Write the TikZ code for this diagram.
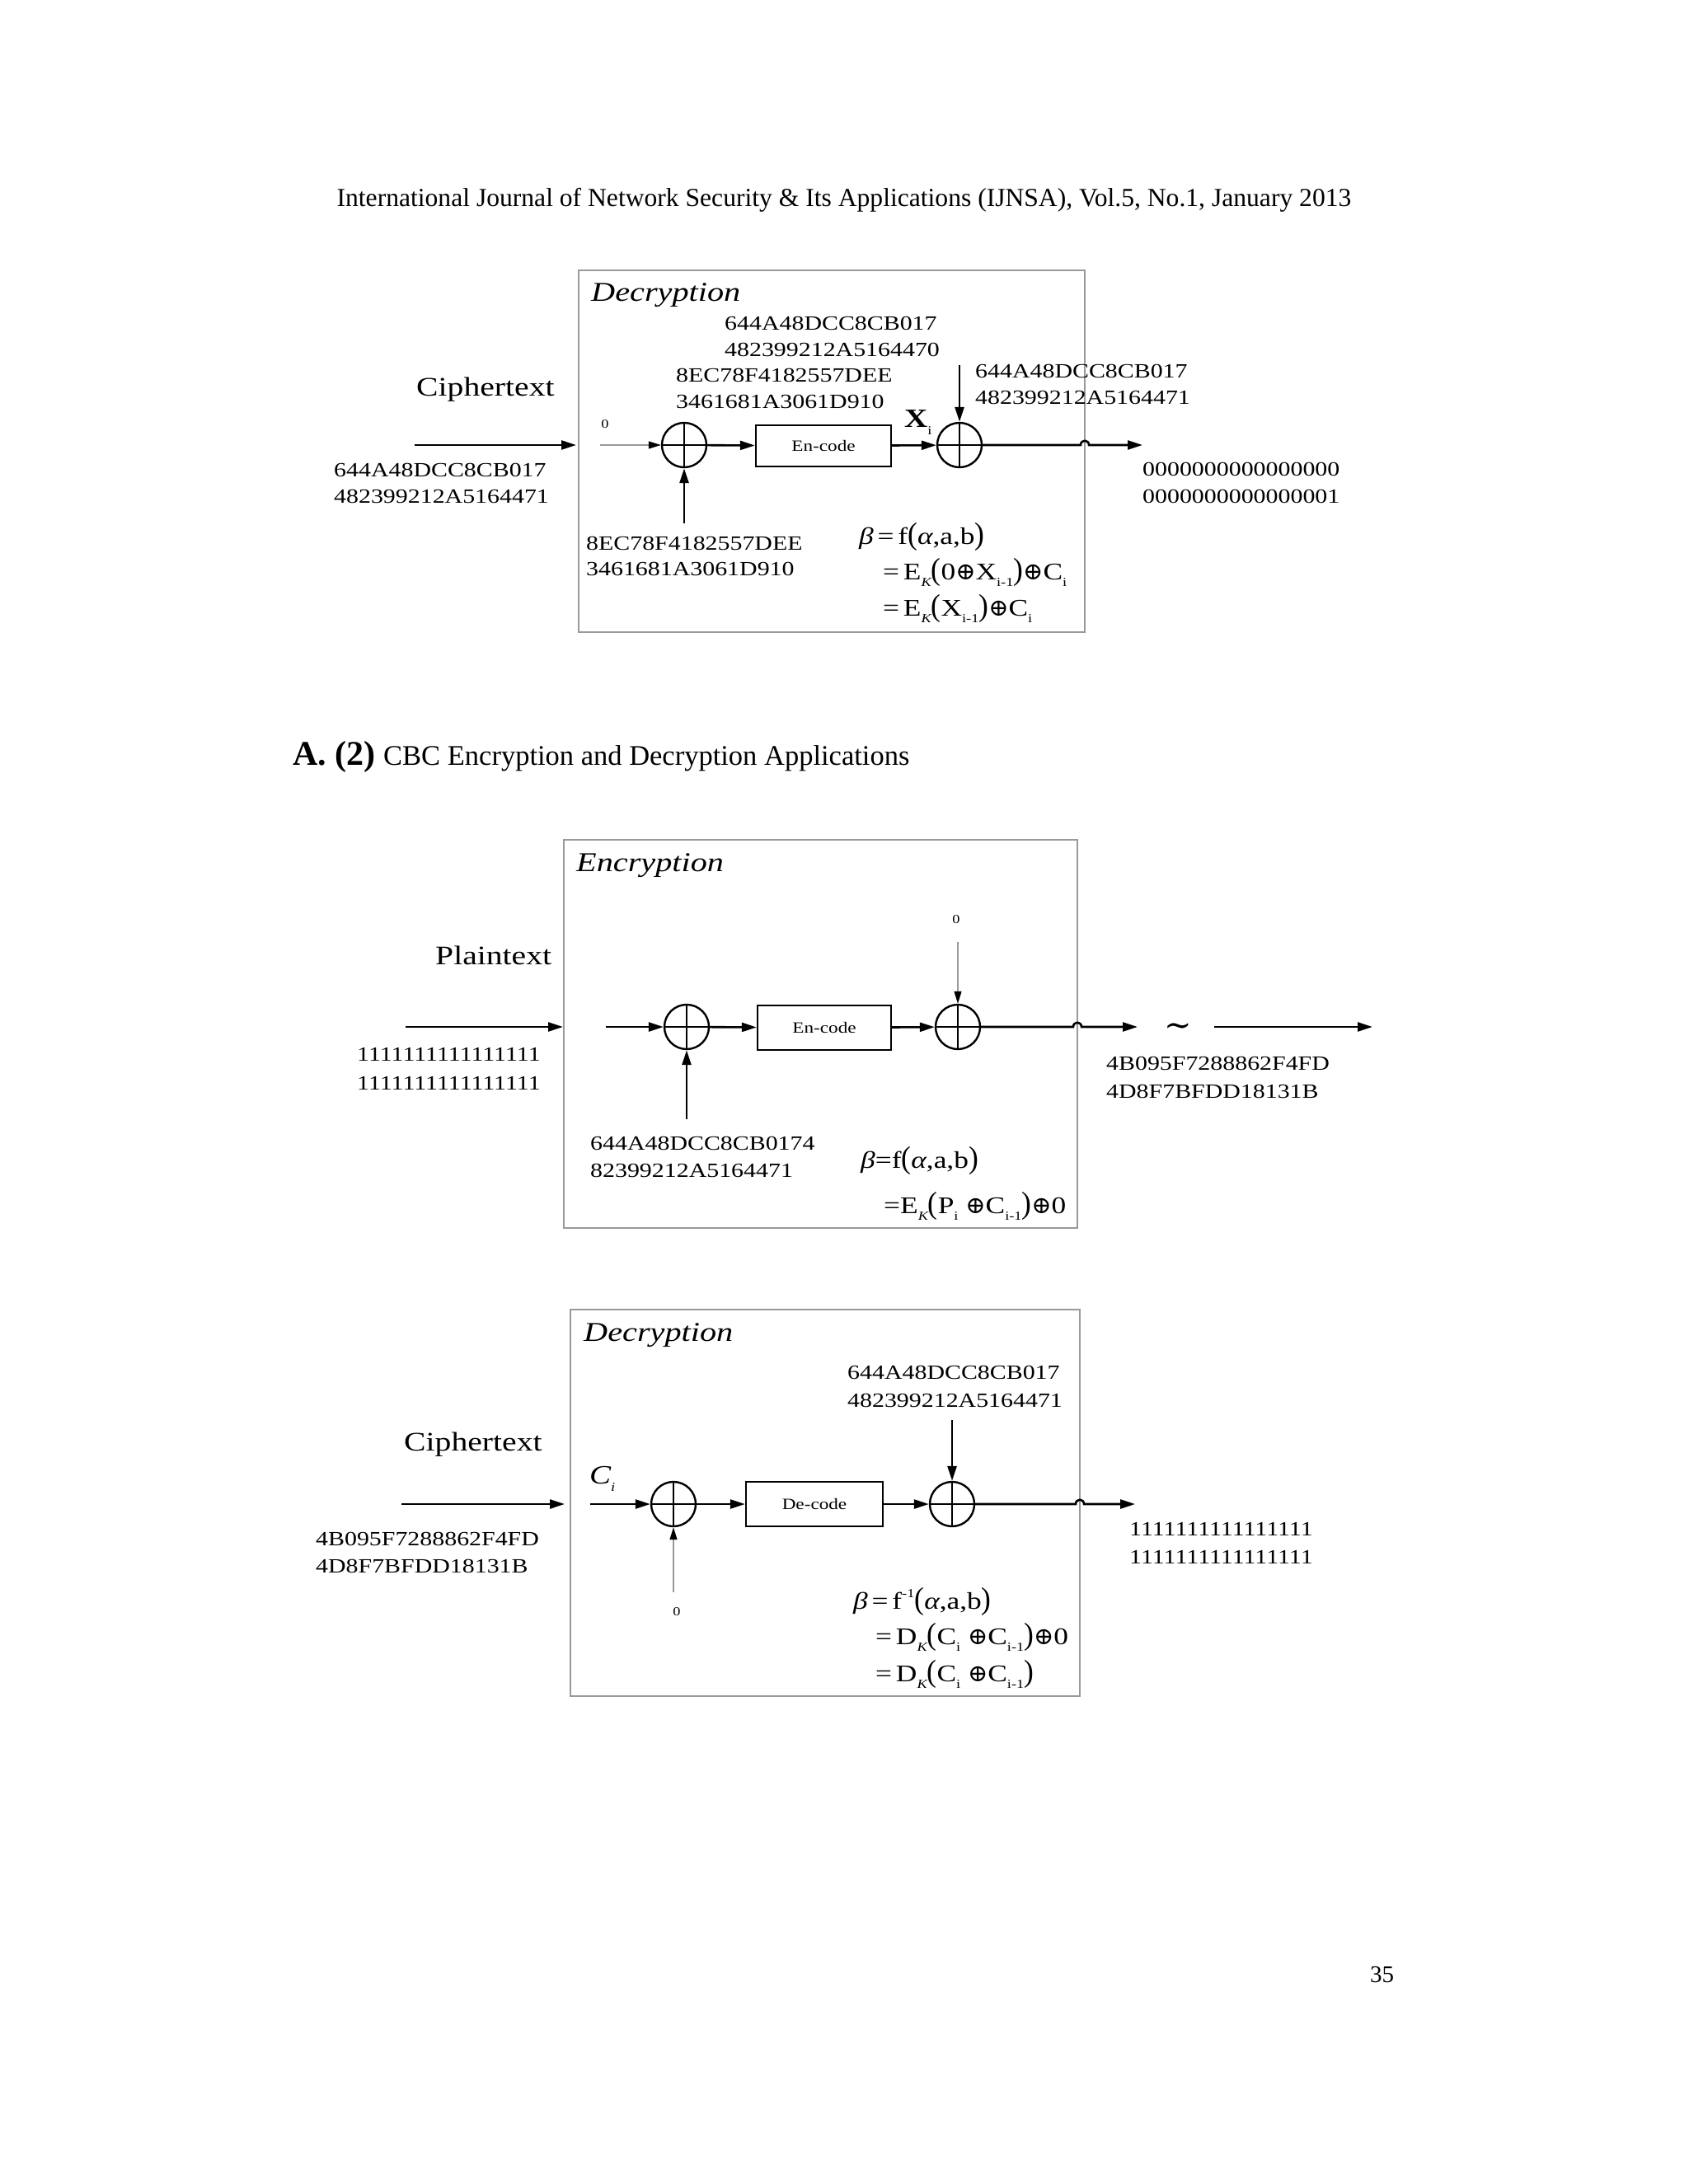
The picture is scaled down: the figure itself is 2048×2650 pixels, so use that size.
\documentclass[tikz,border=0pt]{standalone}
\usepackage{fontspec}
\setmainfont{Liberation Serif}
\newfontfamily\dg[FakeStretch=1.22]{Liberation Serif}
\newfontfamily\symf{DejaVu Serif}
\usetikzlibrary{arrows.meta}
\newcommand\bigpar[1]{\scalebox{1}[1.3]{#1}}
\newcommand\lsub[1]{\raisebox{-0.3em}{\fontsize{15}{15}\selectfont #1}}
\newcommand\lsup[1]{\raisebox{0.45em}{\fontsize{15}{15}\selectfont #1}}
\newcommand\xo{{\symf ⊕}}
\begin{document}
\begin{tikzpicture}[x=1pt,y=-1pt,
  frame/.style={draw=black!40, line width=2pt},
  conn/.style={line width=2.6pt, -{Triangle[length=18pt,width=11pt]}},
  thinln/.style={draw=black!40, line width=1.2pt, -{Triangle[length=15pt,width=9pt,color=black]}},
  xor/.style={circle, draw, line width=2.4pt, minimum size=54pt, inner sep=0pt,
    path picture={\draw[line width=2.2pt] (path picture bounding box.north) -- (path picture bounding box.south)
      (path picture bounding box.west) -- (path picture bounding box.east);}},
  blk/.style={draw, line width=2.4pt, inner sep=0pt, font=\dg\fontsize{19}{19}\selectfont},
  hex/.style={anchor=base west, inner sep=0pt, font=\dg\fontsize{24.5}{24.5}\selectfont},
  frm/.style={anchor=base west, inner sep=0pt, font=\dg\fontsize{29}{29}\selectfont},
  big/.style={anchor=base west, inner sep=0pt, font=\dg\fontsize{32.5}{32.5}\selectfont},
  ttl/.style={anchor=base west, inner sep=0pt, font=\dg\itshape\fontsize{33}{33}\selectfont},
  small/.style={anchor=base, inner sep=0pt, font=\dg\fontsize{15}{15}\selectfont},
  page/.style={inner sep=0pt}
]
\fill[white] (0,0) rectangle (2048,2650);
\useasboundingbox (0,0) rectangle (2048,2650);

% header, title, page number
\node[page, anchor=base, font=\fontsize{31.6}{31.6}\selectfont] (hdr) at (1024,250)
  {International Journal of Network Security \& Its Applications (IJNSA), Vol.5, No.1, January 2013};
\node[page, anchor=base west, font=\fontsize{42}{42}\selectfont\bfseries] (title) at (355,928) {A. (2)};
\node[page, anchor=base west, font=\fontsize{34.5}{34.5}\selectfont] (title2) at (465,928) {CBC Encryption and Decryption Applications};
\node[page, anchor=base west, font=\fontsize{29}{29}\selectfont] (pg) at (1662,2405) {35};

% ================= Diagram 1 : Decryption =================
\draw[frame] (702,328) rectangle (1316,767);
\node[ttl] (t1) at (717,365) {Decryption};
\node[hex] (h1a) at (879,400) {644A48DCC8CB017};
\node[hex] (h1b) at (879,432) {482399212A5164470};
\node[hex] (h1c) at (820,463) {8EC78F4182557DEE};
\node[hex] (h1d) at (820,495) {3461681A3061D910};
\node[big] (ct1) at (505,480) {Ciphertext};
\node[small] (z1) at (734,519) {0};
\node[hex] (in1a) at (405,578) {644A48DCC8CB017};
\node[hex] (in1b) at (405,610) {482399212A5164471};
\coordinate (a1s) at (503,540);
\coordinate (a1e) at (699,540);
\draw[conn] (a1s) -- (a1e);
\node[xor] (x1a) at (830,540) {};
\node[blk, minimum width=164pt, minimum height=50pt] (e1) at (999,541) {En-code};
\node[xor] (x1b) at (1164,540) {};
\coordinate (g1) at (728,540);
\draw[thinln] (g1) -- (x1a);
\draw[conn] (x1a) -- (e1);
\draw[conn] (e1) -- (x1b);
\node[anchor=base west, inner sep=0pt, font=\dg\fontsize{32}{32}\selectfont] (xi1) at (1097,518) {\textbf{X}\lsub{i}};
\coordinate (k1) at (1164,443);
\draw[conn] (k1) -- (x1b);
\node[hex] (h1e) at (1183,458) {644A48DCC8CB017};
\node[hex] (h1f) at (1183,490) {482399212A5164471};
\coordinate (hp1a) at (1311,540);
\coordinate (hp1b) at (1321,540);
\coordinate (o1) at (1386,540);
\draw[conn] (x1b) -- (hp1a) .. controls +(0,-7) and +(0,-7) .. (hp1b) -- (o1);
\node[hex] (out1a) at (1386,577) {0000000000000000};
\node[hex] (out1b) at (1386,610) {0000000000000001};
\coordinate (b1) at (830,635);
\draw[conn] (b1) -- (x1a);
\node[hex] (h1g) at (711,667) {8EC78F4182557DEE};
\node[hex] (h1h) at (711,698) {3461681A3061D910};
\node[frm] (f1a) at (1042,660) {{\itshape β}\,=\,f\bigpar{(}{\itshape α},a,b\bigpar{)}};
\node[frm] (f1b) at (1071,703) {=\,E\lsub{\itshape K}\bigpar{(}0\xo X\lsub{i-1}\bigpar{)}\xo C\lsub{i}};
\node[frm] (f1c) at (1071,747) {=\,E\lsub{\itshape K}\bigpar{(}X\lsub{i-1}\bigpar{)}\xo C\lsub{i}};

% ================= Diagram 2 : Encryption =================
\draw[frame] (684,1019) rectangle (1307,1490);
\node[ttl] (t2) at (699,1057) {Encryption};
\node[big] (pt2) at (528,1170) {Plaintext};
\coordinate (a2s) at (492,1246);
\coordinate (a2e) at (683,1246);
\draw[conn] (a2s) -- (a2e);
\node[hex] (in2a) at (433,1287) {1111111111111111};
\node[hex] (in2b) at (433,1322) {1111111111111111};
\node[xor] (x2a) at (833,1246) {};
\node[blk, minimum width=162pt, minimum height=54pt] (e2) at (1000,1247) {En-code};
\node[xor] (x2b) at (1162,1246) {};
\coordinate (g2) at (735,1246);
\draw[conn] (g2) -- (x2a);
\draw[conn] (x2a) -- (e2);
\draw[conn] (e2) -- (x2b);
\node[small] (z2) at (1160,1120) {0};
\coordinate (k2) at (1162,1143);
\draw[thinln] (k2) -- (x2b);
\coordinate (b2) at (833,1358);
\draw[conn] (b2) -- (x2a);
\node[hex] (h2a) at (716,1395) {644A48DCC8CB0174};
\node[hex] (h2b) at (716,1428) {82399212A5164471};
\node[frm] (f2a) at (1044,1417) {{\itshape β}=f\bigpar{(}{\itshape α},a,b\bigpar{)}};
\node[frm] (f2b) at (1072,1472) {=E\lsub{\itshape K}\bigpar{(}P\lsub{i} \xo C\lsub{i-1}\bigpar{)}\xo 0};
\coordinate (hp2a) at (1302,1246);
\coordinate (hp2b) at (1312,1246);
\coordinate (o2) at (1380,1246);
\draw[conn] (x2b) -- (hp2a) .. controls +(0,-7) and +(0,-7) .. (hp2b) -- (o2);
\node[inner sep=0pt, font=\symf\fontsize{40}{40}\selectfont] (tl2) at (1429,1250) {∼};
\coordinate (l2s) at (1473,1246);
\coordinate (l2e) at (1665,1246);
\draw[conn] (l2s) -- (l2e);
\node[hex] (out2a) at (1342,1298) {4B095F7288862F4FD};
\node[hex] (out2b) at (1342,1332) {4D8F7BFDD18131B};

% ================= Diagram 3 : Decryption =================
\draw[frame] (692,1589) rectangle (1310,2058);
\node[ttl] (t3) at (708,1627) {Decryption};
\node[big] (ct3) at (490,1760) {Ciphertext};
\coordinate (a3s) at (487,1825);
\coordinate (a3e) at (685,1825);
\draw[conn] (a3s) -- (a3e);
\node[hex] (in3a) at (383,1875) {4B095F7288862F4FD};
\node[hex] (in3b) at (383,1908) {4D8F7BFDD18131B};
\node[anchor=base west, inner sep=0pt, font=\dg\itshape\fontsize{32}{32}\selectfont] (ci3) at (715,1800) {C\lsub{i}};
\node[xor] (x3a) at (817,1825) {};
\node[blk, minimum width=166pt, minimum height=54pt] (d3) at (988,1825) {De-code};
\node[xor] (x3b) at (1155,1825) {};
\coordinate (g3) at (716,1825);
\draw[conn] (g3) -- (x3a);
\draw[conn] (x3a) -- (d3);
\draw[conn] (d3) -- (x3b);
\node[hex] (h3a) at (1028,1673) {644A48DCC8CB017};
\node[hex] (h3b) at (1028,1707) {482399212A5164471};
\coordinate (k3) at (1155,1723);
\draw[conn] (k3) -- (x3b);
\coordinate (b3) at (817,1932);
\draw[thinln] (b3) -- (x3a);
\node[small] (z3) at (821,1960) {0};
\node[frm] (f3a) at (1035,1952) {{\itshape β}\,=\,f\lsup{-1}\bigpar{(}{\itshape α},a,b\bigpar{)}};
\node[frm] (f3b) at (1062,1995) {=\,D\lsub{\itshape K}\bigpar{(}C\lsub{i} \xo C\lsub{i-1}\bigpar{)}\xo 0};
\node[frm] (f3c) at (1062,2040) {=\,D\lsub{\itshape K}\bigpar{(}C\lsub{i} \xo C\lsub{i-1}\bigpar{)}};
\coordinate (hp3a) at (1305,1825);
\coordinate (hp3b) at (1315,1825);
\coordinate (o3) at (1377,1825);
\draw[conn] (x3b) -- (hp3a) .. controls +(0,-7) and +(0,-7) .. (hp3b) -- (o3);
\node[hex] (out3a) at (1370,1863) {1111111111111111};
\node[hex] (out3b) at (1370,1897) {1111111111111111};
\end{tikzpicture}
\end{document}
